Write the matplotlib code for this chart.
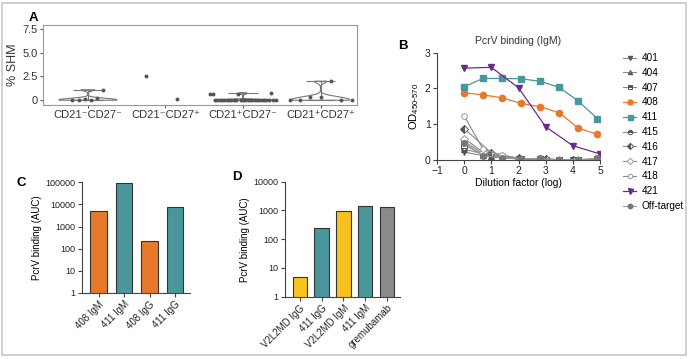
import numpy as np
import matplotlib
matplotlib.use("Agg")
import matplotlib.pyplot as plt
from matplotlib.patches import Rectangle
from matplotlib.ticker import FixedLocator, FixedFormatter

plt.rcParams['font.family'] = ['Liberation Sans', 'DejaVu Sans']
plt.rcParams['font.size'] = 8

# ---------------- data ----------------
# panel A: % SHM per B cell subset
shm_labels = ['CD21\u207bCD27\u207b', 'CD21\u207bCD27\u207a', 'CD21\u207aCD27\u207b', 'CD21\u207aCD27\u207a']
shm_g1 = [0.0, 0.0, 0.1, 0.0, 0.2, 1.1]
shm_g2 = [2.5, 0.1]
shm_g3 = [0.7, 0.7] + [0.0] * 10 + [0.7] + [0.0] * 13 + [0.8, 0.0, 0.0]
shm_g4 = [0.0, 0.0, 0.3, 0.35, 2.0, 0.0, 0.0]

# panel B: OD vs dilution (log)
x_5fold = [0, 0.7, 1.4, 2.1, 2.8, 3.5, 4.2, 4.9]
x_10fold = [0, 1, 2, 3, 4, 5]
od_401 = [0.22, 0.08, 0.03, 0.01, 0.0, 0.0]
od_404 = [0.30, 0.12, 0.04, 0.02, 0.01, 0.02]
od_407 = [0.42, 0.15, 0.07, 0.03, 0.02, 0.01, 0.0, 0.02]
od_408 = [1.88, 1.82, 1.74, 1.58, 1.49, 1.32, 0.89, 0.72]
od_411 = [2.05, 2.28, 2.28, 2.27, 2.20, 2.03, 1.65, 1.16]
od_415 = [0.52, 0.18, 0.08, 0.03, 0.02, 0.01, 0.0, 0.03]
od_416 = [0.88, 0.20, 0.05, 0.02, 0.01, 0.01]
od_417 = [0.60, 0.22, 0.10, 0.03, 0.02, 0.0, 0.0, 0.01]
od_418 = [1.23, 0.30, 0.13, 0.03, 0.02, 0.01, 0.0, 0.02]
od_421 = [2.57, 2.59, 2.02, 0.93, 0.40, 0.17]
od_off = [0.48, 0.12, 0.06, 0.03, 0.05, 0.0, 0.01, 0.05]

# panel C
c_labels = ['408 IgM', '411 IgM', '408 IgG', '411 IgG']
c_values = [4800, 91000, 225, 7600]
# panel D
d_labels = ['V2L2MD IgG', '411 IgG', 'V2L2MD IgM', '411 IgM', 'gremubamab']
d_values = [5, 250, 980, 1470, 1290]

orange = '#E8782A'
teal = '#4A979B'
yellow = '#F7C11E'
grey_bar = '#8A8A8C'
purple = '#6A2C8A'
W, H = 689, 359

fig = plt.figure(figsize=(6.89, 3.59), dpi=100)
fig.patches.append(Rectangle((2 / W, 4 / H), 684 / W, 352 / H, transform=fig.transFigure,
                             fill=False, edgecolor='#c8c8c8', linewidth=1.2))

def fax(l, t, r, b):
    return fig.add_axes([l / W, 1 - b / H, (r - l) / W, (b - t) / H])

# ---------------- A ----------------
axA = fax(43, 25, 357, 105)
groups = [shm_g1, shm_g2, shm_g3, shm_g4]
spreads = [0.2, 0.3, 0.42, 0.4]
vp = axA.violinplot([shm_g1, shm_g3, shm_g4], positions=[0, 2, 3], widths=0.75,
                    showextrema=True, bw_method=0.3)
for b in vp['bodies']:
    b.set_facecolor('none')
    b.set_edgecolor('#777777')
    b.set_linewidth(0.8)
    b.set_alpha(1)
for k in ['cmaxes', 'cmins', 'cbars']:
    vp[k].set_color('#777777')
    vp[k].set_linewidth(0.8)
for i, g in enumerate(groups):
    offs = np.linspace(-spreads[i], spreads[i], len(g)) if len(g) > 2 else np.array([-0.25, 0.15])
    axA.scatter(i + offs, g, s=8, color='#555555', zorder=3, linewidths=0)
axA.set_xlim(-0.58, 3.47)
axA.set_ylim(-0.5, 7.9)
axA.set_yticks([0, 2.5, 5.0, 7.5])
axA.set_yticklabels(['0', '2.5', '5.0', '7.5'])
axA.set_xticks(range(4))
axA.set_xticklabels(shm_labels)
axA.set_ylabel('% SHM', fontsize=9, color='#333333', labelpad=3)
for s in axA.spines.values():
    s.set_color('#999999')
axA.tick_params(colors='#555555', labelcolor='#333333', length=2, pad=1.5, labelsize=8)
fig.text(33 / W, 1 - 18 / H, 'A', fontsize=9.5, fontweight='bold', ha='center', va='center')

# ---------------- B ----------------
axB = fax(437, 52.7, 600, 160)
lg = '#8a8a8a'
mk = '#555555'
kw = dict(color=lg, linewidth=0.8, markersize=4, markeredgewidth=0.7)
axB.plot(x_10fold, od_401, marker='v', mfc=mk, mec=mk, label='401', **kw)
axB.plot(x_10fold, od_404, marker='^', fillstyle='bottom', mfc=mk, mfcalt='white', mec=mk, label='404', **kw)
axB.plot(x_5fold, od_407, marker='s', fillstyle='top', mfc=mk, mfcalt='white', mec=mk, label='407', **kw)
axB.plot(x_5fold, od_408, marker='o', color=orange, mfc=orange, mec=orange, linewidth=0.9,
         markersize=4.5, label='408')
axB.plot(x_5fold, od_411, marker='s', color=teal, mfc=teal, mec=teal, linewidth=0.9,
         markersize=4.5, label='411')
axB.plot(x_5fold, od_415, marker='o', fillstyle='top', mfc=mk, mfcalt='white', mec=mk, label='415', **kw)
axB.plot(x_10fold, od_416, marker='D', fillstyle='left', mfc=mk, mfcalt='white', mec=mk, label='416', **kw)
axB.plot(x_5fold, od_417, marker='D', mfc='white', mec='#999999', label='417', **kw)
axB.plot(x_5fold, od_418, marker='o', mfc='white', mec='#999999', label='418', **kw)
axB.plot(x_10fold, od_421, marker='v', color=purple, mfc=purple, mec=purple, linewidth=0.9,
         markersize=4.5, label='421')
axB.plot(x_5fold, od_off, marker='o', color='#999999', mfc='#777777', mec='#777777', linewidth=0.8,
         markersize=4, label='Off-target')
axB.set_xlim(-1, 5)
axB.set_ylim(0, 3)
axB.set_xticks(range(-1, 6))
axB.set_yticks([0, 1, 2, 3])
axB.spines[['top', 'right']].set_visible(False)
for s in ['left', 'bottom']:
    axB.spines[s].set_color('#444444')
axB.tick_params(length=3, pad=1.5, colors='#444444', labelcolor='#222222', labelsize=7.5)
axB.set_title('PcrV binding (IgM)', fontsize=7.5, pad=6, color='#333333')
axB.set_xlabel('Dilution factor (log)', fontsize=7.5, labelpad=1)
axB.set_ylabel(r'OD$_{\mathregular{450\text{-}570}}$', fontsize=8, labelpad=3)
axB.legend(loc='upper left', bbox_to_anchor=(618 / W, 1 - 48 / H), bbox_transform=fig.transFigure,
           frameon=False, fontsize=7.2, handlelength=1.3, handletextpad=0.55, labelspacing=0.48,
           borderpad=0, markerscale=0.8)
fig.text(403 / W, 1 - 46 / H, 'B', fontsize=9.5, fontweight='bold', ha='center', va='center')

# ---------------- C / D ----------------
def bar_panel(ax, labels, values, colors, top, ticks):
    x = np.arange(len(values))
    ax.bar(x, values, width=0.66, color=colors, edgecolor='#333333', linewidth=0.8, zorder=2)
    ax.set_yscale('log')
    ax.set_ylim(1, top)
    ax.yaxis.set_major_locator(FixedLocator(ticks))
    ax.yaxis.set_major_formatter(FixedFormatter([str(t) for t in ticks]))
    ax.yaxis.set_minor_locator(FixedLocator([]))
    ax.set_xticks(x)
    ax.set_xticklabels(labels, rotation=45, ha='right', rotation_mode='anchor', fontsize=7)
    ax.spines[['top', 'right']].set_visible(False)
    for s in ['left', 'bottom']:
        ax.spines[s].set_color('#444444')
    ax.tick_params(length=3, pad=1.5, colors='#444444', labelcolor='#222222')
    ax.tick_params(axis='y', labelsize=6.5)
    ax.set_ylabel('PcrV binding (AUC)', fontsize=7, labelpad=3)

axC = fax(82, 182.3, 190, 293)
bar_panel(axC, c_labels, c_values, [orange, teal, orange, teal], 100000,
          [1, 10, 100, 1000, 10000, 100000])
axC.set_xlim(-0.65, 3.59)
fig.text(21 / W, 1 - 183 / H, 'C', fontsize=9.5, fontweight='bold', ha='center', va='center')

axD = fax(285, 181.7, 400, 296.7)
bar_panel(axD, d_labels, d_values, [yellow, teal, yellow, teal, grey_bar], 10000,
          [1, 10, 100, 1000, 10000])
axD.set_xlim(-0.68, 4.6)
fig.text(237 / W, 1 - 177 / H, 'D', fontsize=9.5, fontweight='bold', ha='center', va='center')

fig.savefig('out.png', dpi=100)
